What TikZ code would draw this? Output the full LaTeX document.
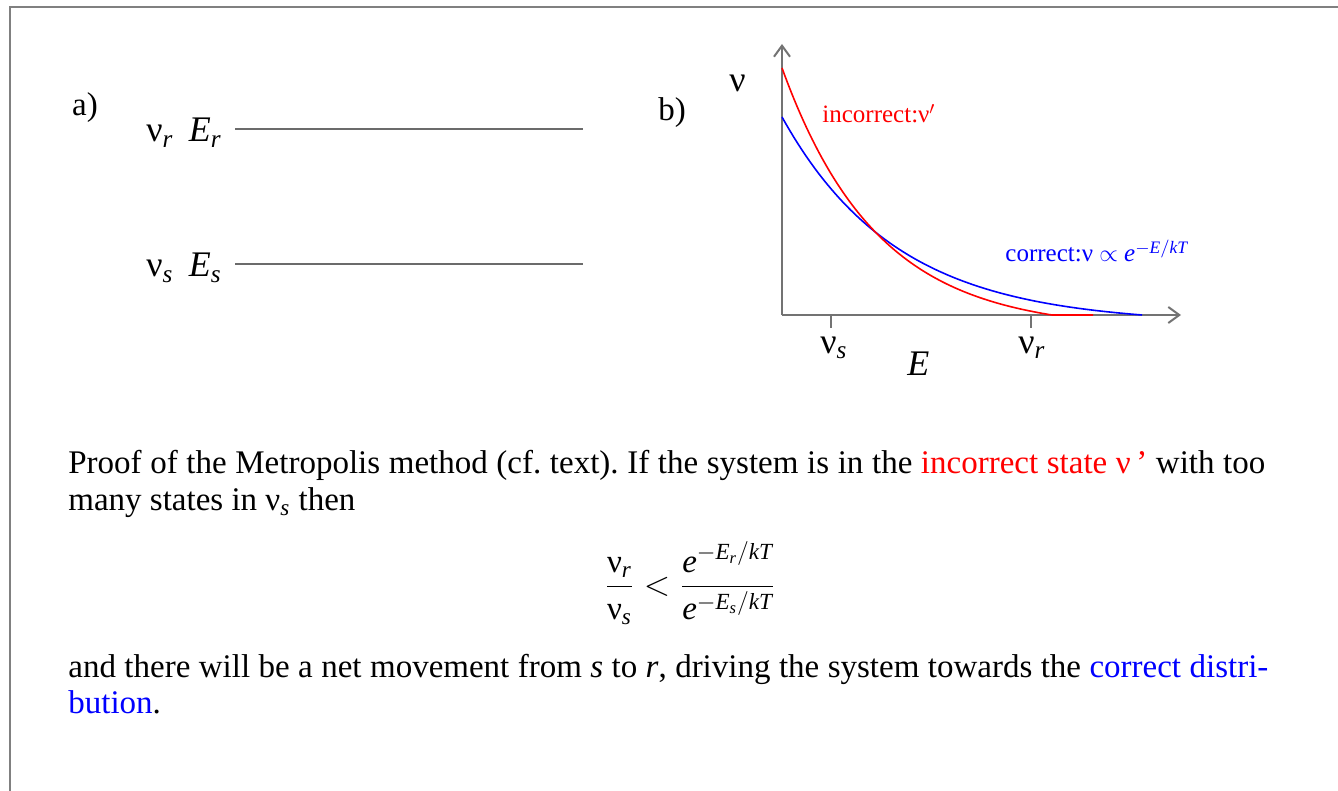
\documentclass[tikz,border=0pt]{standalone}
\usepackage{amsmath}
\usepackage{fontspec}
\setmainfont{Liberation Serif}
\usetikzlibrary{positioning,arrows.meta}

\newcommand{\gnu}{\text{ν}}
\newcommand{\itl}[1]{\text{\itshape #1}}
\frenchspacing

\begin{document}
\begin{tikzpicture}[
        x=0.5pt, y=-0.5pt,
        every node/.style={inner sep=0pt, font=\fontsize{16.5}{20}\selectfont},
        frameline/.style={draw=black!50, line width=1.3pt},
        level/.style={draw=black!58, line width=1pt},
        axis/.style={draw=black!55, line width=1pt},
        barb/.style={-{Straight Barb[length=5.5pt,width=8pt]}},
        txtline/.style={anchor=base west},
        biglabel/.style={anchor=base west, font=\fontsize{18}{21}\selectfont},
        curvelabel/.style={anchor=base west, font=\fontsize{12.5}{15}\selectfont},
        curve/.style={line width=0.8pt}
    ]
    \useasboundingbox (0,0) rectangle (1338,791);

    % Frame
    \coordinate (fbl) at (10,791);
    \coordinate (ftl) at (10,7);
    \coordinate (ftr) at (1338,7);
    \draw[frameline] (fbl) -- (ftl) -- (ftr);

    % a) energy levels
    \node (la) at (85,108) {a)};
    \node[biglabel] (labr) at (146,142) {$\gnu_{\itl{r}}\;\, \itl{E}_{\itl{r}}$};
    \node[biglabel] (labs) at (146,277) {$\gnu_{\itl{s}}\;\, \itl{E}_{\itl{s}}$};
    \coordinate (r0) at (235,129);
    \coordinate (r1) at (583,129);
    \coordinate (s0) at (235,264);
    \coordinate (s1) at (583,264);
    \draw[level] (r0) -- (r1);
    \draw[level] (s0) -- (s1);

    % b) distributions
    \node (lb) at (672,113) {b)};
    \coordinate (origin) at (782,315);
    \coordinate (ytip) at (782,44);
    \coordinate (xtip) at (1181,315);
    \draw[axis, barb] (origin) -- (ytip);
    \draw[axis, barb] (origin) -- (xtip);

    \coordinate (ts) at (831,315);
    \coordinate (tsb) at (831,328);
    \coordinate (tr) at (1031,315);
    \coordinate (trb) at (1031,328);
    \draw[axis] (ts) -- (tsb);
    \draw[axis] (tr) -- (trb);

    \node[biglabel] (nuaxis) at (729,92) {ν};
    \node[biglabel] (tls) at (820,353) {$\gnu_{\itl{s}}$};
    \node[biglabel] (tlr) at (1018,353) {$\gnu_{\itl{r}}$};
    \node[biglabel] (eaxis) at (907,375) {\itshape E};

    % curves
    \draw[curve, blue] plot[domain=0:360, samples=90]
        ({782+\x}, {315-198*(exp(-\x/115)-exp(-360/115))/(1-exp(-360/115))});
    \draw[curve, red] plot[domain=0:270, samples=90]
        ({782+\x}, {315-247*(exp(-\x/95)-exp(-270/95))/(1-exp(-270/95))}) -- (1093,315);

    \node[curvelabel, red] (incl) at (822,123) {incorrect:ν$'$};
    \node[curvelabel, blue] (corl) at (1005,262) {correct:ν $\propto$ $\itl{e}^{-\itl{E}/\itl{kT}}$};

    % caption text
    \node[txtline] (t1) at (68,473) {\makebox[598.5pt][s]{Proof of the Metropolis method (cf. text). If the system is in the \textcolor{red}{incorrect state ν\,’} with too}};
    \node[txtline] (t2) at (68,510) {many states in $\gnu_{\itl{s}}$ then};
    \node (eq) at (690,583) {$\dfrac{\gnu_{\itl{r}}}{\gnu_{\itl{s}}} < \dfrac{\itl{e}^{-\itl{E}_{\itl{r}}/\itl{kT}}}{\itl{e}^{-\itl{E}_{\itl{s}}/\itl{kT}}}$};
    \node[txtline] (t3) at (68,677) {\makebox[600pt][s]{and there will be a net movement from \textit{s} to \textit{r}, driving the system towards the \textcolor{blue}{correct distri-}}};
    \node[txtline] (t4) at (68,713) {\textcolor{blue}{bution}.};

\end{tikzpicture}
\end{document}
